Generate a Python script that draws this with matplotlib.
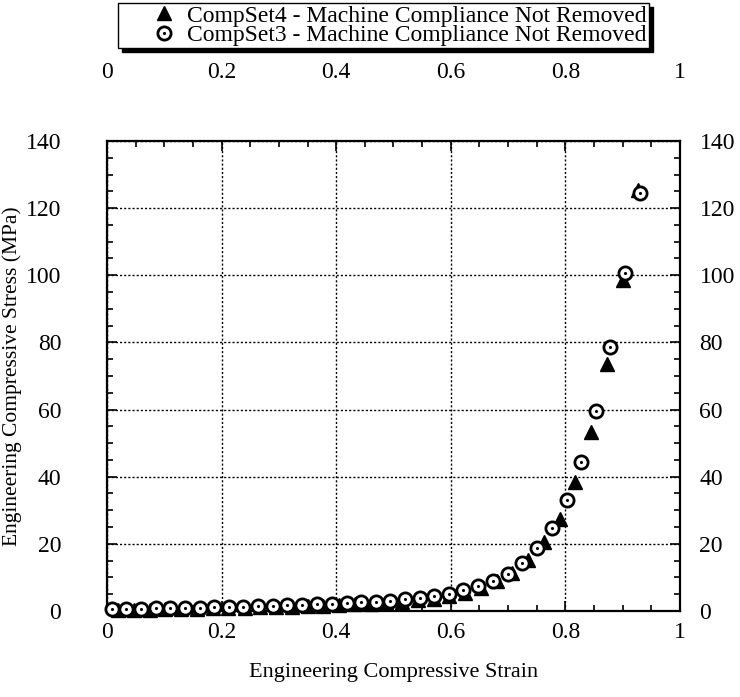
import numpy as np
import matplotlib.pyplot as plt
from matplotlib.ticker import MultipleLocator, FixedLocator

plt.rcParams['font.family'] = ['Liberation Serif', 'DejaVu Serif']

# CompSet3 (open circles)
strain3 = [0.008, 0.034, 0.059, 0.085, 0.110, 0.136, 0.162, 0.187, 0.213, 0.238,
           0.264, 0.290, 0.315, 0.341, 0.366, 0.392, 0.418, 0.443, 0.469, 0.494,
           0.520, 0.546, 0.571, 0.597, 0.622, 0.648, 0.674, 0.699, 0.725, 0.750,
           0.776, 0.802, 0.827, 0.853, 0.878, 0.904, 0.930]
stress3 = [0.5, 0.6, 0.7, 0.8, 0.9, 1.0, 1.0, 1.1, 1.2, 1.3,
           1.4, 1.5, 1.7, 1.9, 2.0, 2.2, 2.4, 2.6, 2.8, 3.1,
           3.5, 3.9, 4.5, 5.2, 6.2, 7.4, 8.9, 11.0, 14.3, 18.7,
           24.6, 33.0, 44.4, 59.7, 78.7, 100.8, 124.5]

# CompSet4 (filled triangles)
strain4 = [0.020, 0.047, 0.075, 0.102, 0.130, 0.157, 0.185, 0.212, 0.240, 0.267,
           0.295, 0.322, 0.350, 0.377, 0.405, 0.432, 0.460, 0.487, 0.515, 0.542,
           0.570, 0.597, 0.625, 0.652, 0.680, 0.707, 0.735, 0.762, 0.790, 0.817,
           0.845, 0.873, 0.900, 0.927]
stress4 = [0.2, 0.3, 0.4, 0.5, 0.6, 0.7, 0.8, 0.9, 1.0, 1.1,
           1.2, 1.3, 1.5, 1.6, 1.8, 2.0, 2.2, 2.5, 2.8, 3.2,
           3.7, 4.6, 5.4, 6.8, 8.8, 11.3, 15.3, 20.5, 27.5, 38.3,
           53.3, 73.5, 98.6, 125.5]

xticks = [0, 0.2, 0.4, 0.6, 0.8, 1.0]
xticklabels = ['0', '0.2', '0.4', '0.6', '0.8', '1']
yticks = [0, 20, 40, 60, 80, 100, 120, 140]

label4 = 'CompSet4 - Machine Compliance Not Removed'
label3 = 'CompSet3 - Machine Compliance Not Removed'

fig = plt.figure(figsize=(7.4, 6.97), dpi=100)
ax = fig.add_axes([0.1446, 0.1234, 0.7743, 0.6743])

tri, = ax.plot(strain4, stress4, linestyle='none', marker='^', ms=9.5,
               color='black', clip_on=False, zorder=3)
circ, = ax.plot(strain3, stress3, linestyle='none', marker='o', ms=9.5,
                mfc='white', mec='black', mew=2.0, clip_on=False, zorder=4)
dot, = ax.plot(strain3, stress3, linestyle='none', marker='.', ms=2.5,
               color='black', clip_on=False, zorder=5)

ax.set_xlim(0, 1)
ax.set_ylim(0, 140)
ax.set_xticks(xticks)
ax.set_xticklabels(xticklabels)
ax.set_yticks(yticks)
ax.xaxis.set_minor_locator(MultipleLocator(0.05))
ax.yaxis.set_minor_locator(MultipleLocator(5))

ax.grid(True, which='major', linestyle=(0, (1.5, 1.5)), color='black', linewidth=1.0)
for s in ax.spines.values():
    s.set_linewidth(1.6)

ax.tick_params(which='both', direction='in', top=True, right=True, width=1.2)
ax.tick_params(which='major', length=7, labelsize=17)
ax.tick_params(which='minor', length=4)
ax.tick_params(axis='x', which='major', pad=8)
ax.tick_params(axis='y', which='major', pad=33)

# labels on top and right, with their own spacing
top = ax.secondary_xaxis('top')
top.set_xticks(xticks)
top.set_xticklabels(xticklabels)
top.tick_params(length=0, labelsize=17, pad=42)
top.spines['top'].set_visible(False)

right = ax.secondary_yaxis('right')
right.set_yticks(yticks)
right.tick_params(length=0, labelsize=17, pad=14)
right.spines['right'].set_visible(False)

ax.set_xlabel('Engineering Compressive Strain', fontsize=16, labelpad=14)
ax.set_ylabel('Engineering Compressive Stress (MPa)', fontsize=15.5)
ax.yaxis.set_label_coords(-0.1475, 0.5)

fig.legend([tri, (circ, dot)], [label4, label3], loc='upper left',
           bbox_to_anchor=(0.159, 0.996), borderaxespad=0, fontsize=17,
           frameon=True, fancybox=False, edgecolor='black', framealpha=1,
           labelspacing=-0.1, borderpad=0.1, handlelength=3.7,
           handletextpad=-0.88,
           shadow={'ox': 3, 'oy': -3, 'facecolor': 'black',
                   'edgecolor': 'black', 'alpha': 1})

plt.savefig('out.png', dpi=100)
